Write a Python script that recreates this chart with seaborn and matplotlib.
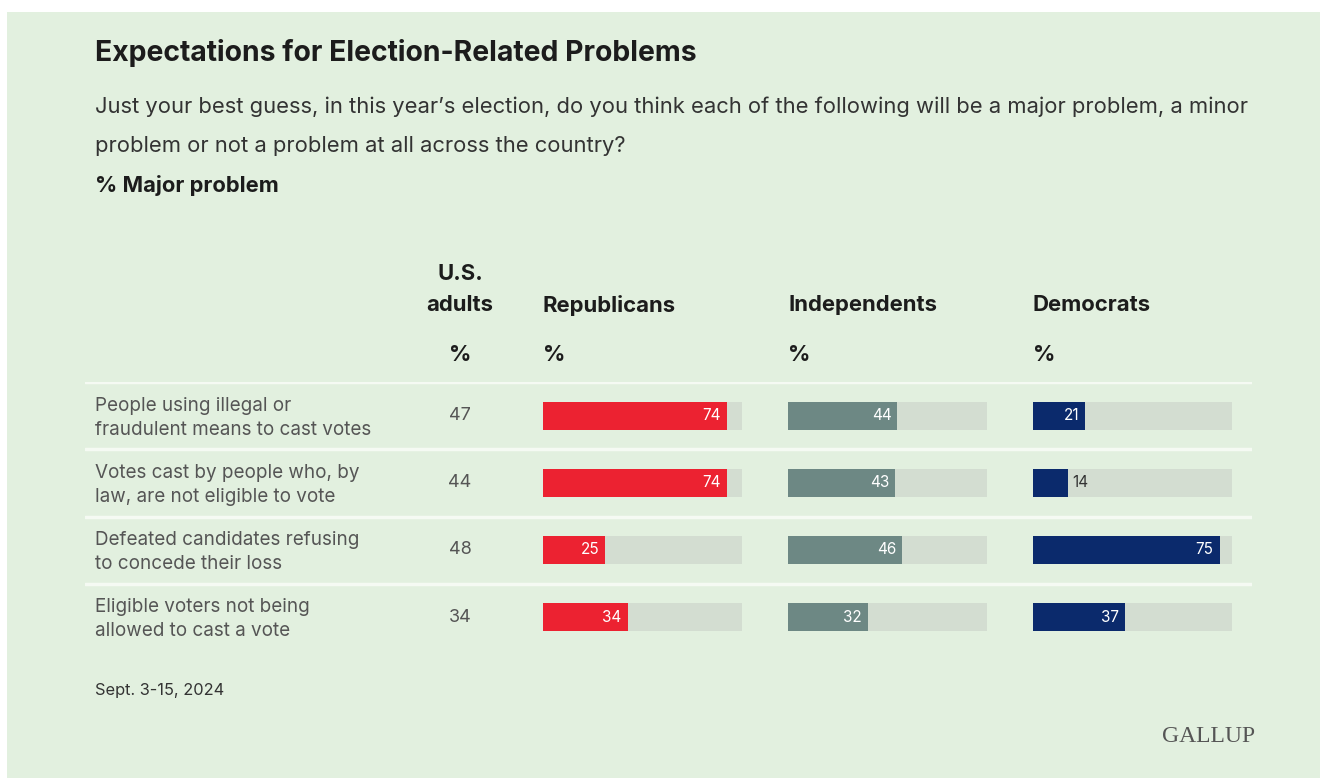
import matplotlib
matplotlib.use("Agg")
import matplotlib.pyplot as plt
import seaborn as sns
import pandas as pd
from matplotlib.patches import Rectangle
from matplotlib.transforms import blended_transform_factory, offset_copy

# ---------------- data ----------------
items = [
    "People using illegal or\nfraudulent means to cast votes",
    "Votes cast by people who, by\nlaw, are not eligible to vote",
    "Defeated candidates refusing\nto concede their loss",
    "Eligible voters not being\nallowed to cast a vote",
]
us_adults = [47, 44, 48, 34]
republicans = [74, 74, 25, 34]
independents = [44, 43, 46, 32]
democrats = [21, 14, 75, 37]
group_names = ["Republicans", "Independents", "Democrats"]
SCALE_MAX = 80

title = "Expectations for Election-Related Problems"
subtitle_lines = ["Just your best guess, in this year\u2019s election, do you think each of the following will be a major problem, a minor",
                  "problem or not a problem at all across the country?"]
measure = "% Major problem"
note = "Sept. 3-15, 2024"
brand = "GALLUP"

# ---------------- style ----------------
BG = "#e2f0df"
TRACK = "#d3ddd1"
SEP = "#f5faf3"
COLORS = ["#ec2231", "#6d8884", "#0b2a6c"]
DARK = "#1c1c1c"
GRAY = "#555555"

sns.set_theme(style="white")
plt.rcParams["font.family"] = ["Inter", "DejaVu Sans"]

W, H = 1320, 778
fig = plt.figure(figsize=(W / 100, H / 100), dpi=100)
fig.patch.set_facecolor("white")

def fx(px):
    return px / W

def fy(py):
    return 1 - py / H

fig.patches.append(Rectangle((fx(7), 0), 1 - fx(7), fy(12), transform=fig.transFigure,
                             facecolor=BG, edgecolor="none", zorder=-10))

# headline text
fig.text(fx(95), fy(53), title, fontsize=20.4, fontweight="bold", color=DARK, va="center", ha="left")
for k, line in enumerate(subtitle_lines):
    fig.text(fx(95), fy(107 + 39 * k), line, fontsize=15.8, color="#333333", va="center", ha="left")
fig.text(fx(95), fy(185), measure, fontsize=15.8, fontweight="bold", color=DARK, va="center", ha="left")

# table frame
row_top, row_h = 382.5, 67
n = len(items)
ax0 = fig.add_axes([fx(85), fy(row_top + row_h * n), (1252 - 85) / W, row_h * n / H])
ax0.set_xlim(0, 1)
ax0.set_ylim(n - 0.5, -0.5)
ax0.axis("off")
for k in range(n):
    ax0.axhline(k - 0.5, color=SEP, lw=2.5, zorder=0)

tr = blended_transform_factory(fig.transFigure, ax0.transData)
tr_lab = offset_copy(tr, fig=fig, x=0, y=-2, units="dots")
us_x = fx(460)
for i, (lab, v) in enumerate(zip(items, us_adults)):
    fig.text(fx(95), i, lab, transform=tr_lab, fontsize=13.6, color=GRAY, va="center", ha="left", linespacing=1.36)
    fig.text(us_x, i, str(v), transform=tr, fontsize=13, color=GRAY, va="center", ha="center")

# column headers
HFS = 15.9
fig.text(us_x, fy(274), "U.S.", fontsize=HFS, fontweight="bold", color=DARK, ha="center", va="center")
fig.text(us_x, fy(305), "adults", fontsize=HFS, fontweight="bold", color=DARK, ha="center", va="center")
fig.text(us_x, fy(355), "%", fontsize=HFS, fontweight="bold", color=DARK, ha="center", va="center")

# bar panels
lefts = [543, 788, 1033]
panel_w = 199
for name, vals, color, left in zip(group_names, [republicans, independents, democrats], COLORS, lefts):
    ax = fig.add_axes([fx(left), fy(row_top + row_h * n), panel_w / W, row_h * n / H])
    ax.patch.set_alpha(0)
    df = pd.DataFrame({"item": items, "value": vals, "track": [SCALE_MAX] * n})
    sns.barplot(data=df, x="track", y="item", color=TRACK, saturation=1, width=0.43, ax=ax, linewidth=0)
    sns.barplot(data=df, x="value", y="item", color=color, saturation=1, width=0.43, ax=ax, linewidth=0)
    ax.set_xlim(0, SCALE_MAX)
    ax.set_ylim(n - 0.5, -0.5)
    ax.axis("off")
    for i, v in enumerate(vals):
        if v >= 18:
            ax.text(v - 2.4, i, str(v), color="white", fontsize=11, ha="right", va="center")
        else:
            ax.text(v + 1.6, i, str(v), color="#333333", fontsize=11, ha="left", va="center")
    fig.text(fx(left), fy(305), name, fontsize=HFS, fontweight="bold", color=DARK, ha="left", va="center")
    fig.text(fx(left), fy(355), "%", fontsize=HFS, fontweight="bold", color=DARK, ha="left", va="center")

fig.text(fx(95), fy(690), note, fontsize=11.8, color="#333333", ha="left", va="center")
fig.text(fx(1255), fy(737), brand, fontsize=17, color="#555555", ha="right", va="center",
         family=["Liberation Serif", "DejaVu Serif"])

fig.savefig("out.png", dpi=100, facecolor="white")
